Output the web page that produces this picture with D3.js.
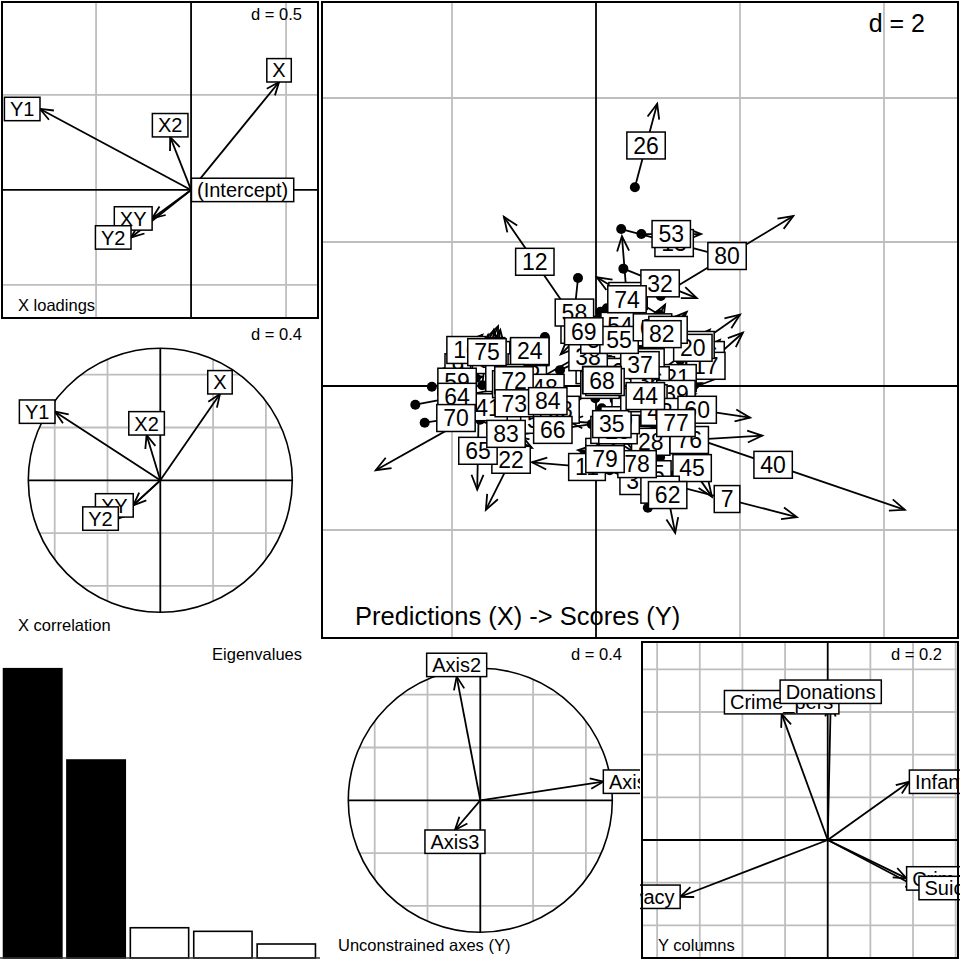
<!DOCTYPE html>
<html><head><meta charset="utf-8">
<script src="https://cdn.jsdelivr.net/npm/d3@7"></script>
<style>body{margin:0;background:#fff}svg{display:block}</style>
</head><body>
<svg id="chart" width="960" height="960"></svg>
<script>
const FONT = "'Liberation Sans', Arial, Helvetica, sans-serif";

// ---------- data ----------
const xLoadNames = ["(Intercept)", "X", "Y1", "X2", "XY", "Y2"];
const xLoadX = [0.002, 0.463, -0.795, -0.11, -0.205, -0.316];
const xLoadY = [0, 0.568, 0.426, 0.279, -0.15, -0.25];

const xCorNames = ["X", "Y1", "X2", "XY", "Y2"];
const xCorX = [0.452, -0.798, -0.104, -0.205, -0.318];
const xCorY = [0.654, 0.520, 0.343, -0.19, -0.29];

const axesNames = ["Axis1", "Axis2", "Axis3"];
const axesX = [0.932, -0.179, -0.192];
const axesY = [0.141, 0.937, -0.225];

const yColNames = ["Crime_pers", "Crime_prop", "Literacy", "Donations", "Infants", "Suicides"];
const yColX = [-0.216, 0.37, -0.692, 0.014, 0.383, 0.428];
const yColY = [0.591, -0.18, -0.266, 0.64, 0.273, -0.225];

const eigNames = ["1", "2", "3", "4", "5"];
const eigValues = [2.17, 1.485, 0.227, 0.20, 0.105];
const eigKept = 2;

const obsNames = ["1","2","3","4","5","6","7","8","9","10","11","12","13","14","15","16","17","18","19","20",
"21","22","23","24","25","26","27","28","29","30","31","32","33","34","35","36","37","38","39","40",
"41","42","43","44","45","46","47","48","49","50","51","52","53","54","55","56","57","58","59","60",
"61","62","63","64","65","66","67","68","69","70","71","72","73","74","75","76","77","78","79","80",
"81","82","83","84"];
// predictions (X) : dots
const predX = [-1.26,-1.47,0.19,0.26,0.56,-1.42,0.85,-1.58,-2.10,-2.03,0.64,-0.42,0.35,0.50,-1.19,1.31,1.01,-0.01,1.17,0.69,
0.58,-0.83,-1.06,-0.71,-0.15,0.54,0.26,0.44,0.08,0.28,0.88,0.38,0.54,0.44,0.83,0.61,0.19,-0.50,0.75,0.63,
0.06,0.58,0.75,-0.01,1.06,-0.08,-1.19,-0.50,-1.40,-0.36,-0.08,-0.92,0.63,0.06,0.06,0.72,-0.06,-0.25,-2.28,0.67,
0.61,0.89,-0.64,-2.51,-1.63,-0.06,-0.01,-0.33,0.15,-2.38,-1.31,-0.85,-1.33,0.50,-1.67,0.28,0.89,0.22,-0.17,0.90,
0.74,0.68,-1.61,-0.92];
const predY = [-0.19,0.19,-1.17,-0.19,-1.17,0.08,-1.32,0.01,0.19,0.29,-1.19,1.10,2.18,-0.94,0.08,0.22,-0.18,-0.75,0.36,0.07,
0.12,-0.33,0.36,0.68,0.08,2.76,0.08,-0.61,-0.31,-0.32,0.99,1.63,0.22,-0.33,-0.57,-0.06,0.36,0.22,-0.26,-0.47,
0.58,-0.31,-0.47,-0.17,-0.74,-0.08,-0.22,-0.19,-0.03,0.67,0.53,-0.54,2.11,1.03,0.78,-1.69,-0.08,1.50,-0.01,-0.22,
0.50,-0.99,-0.44,-0.26,-0.36,-0.53,-0.06,-0.28,1.08,-0.51,-0.06,0.22,-0.13,0.33,0.11,-0.81,-0.75,-0.75,-0.97,1.25,
0.53,0.47,-0.47,-0.10];
// scores (Y) : arrow heads
const scoreX = [-0.99,-1.42,0.83,0.54,1.17,-1.33,2.79,-1.50,-1.74,-1.58,-0.89,-1.28,1.82,-0.25,-0.72,1.72,2.04,0.40,1.58,2.00,
1.67,-1.53,-0.78,-1.13,0.13,0.85,0.54,1.08,0.53,0.39,0.01,1.40,0.82,0.78,-0.39,0.89,1.03,0.28,1.47,4.29,
-3.06,0.86,1.03,1.38,1.61,0.19,-0.92,-0.92,-1.13,-0.08,0.19,-0.64,1.46,0.61,0.58,1.06,0.22,-0.35,-1.58,2.14,
0.96,1.10,-0.36,-1.35,-1.65,-1.14,0.26,0.50,-0.49,-1.51,-1.03,-1.43,-0.94,0.36,-1.36,2.31,1.33,0.92,0.42,2.74,
1.26,1.15,-0.89,-0.42];
const scoreY = [0.03,0.78,-1.47,-0.47,-1.28,0.78,-1.82,0.71,0.33,0.71,-1.06,2.35,1.79,-0.89,0.44,0.64,0.74,-0.47,0.78,0.99,
0.10,-1.72,0.58,0.29,0.36,3.92,0.31,-0.94,-0.92,-0.63,1.51,1.22,0.44,-0.11,-0.49,0.22,0.22,0.58,0.04,-1.72,
-1.17,-0.03,-0.25,-0.11,-1.54,0.11,-0.03,0.14,0.25,0.89,0.75,-0.40,2.11,0.64,0.50,-1.19,0.25,0.54,0.13,-0.44,
1.13,-2.04,-0.22,-0.04,-1.44,-0.69,0.17,0.44,0.44,-0.38,0.11,-0.06,-0.35,2.08,0.83,-0.69,-0.28,-1.42,-1.06,2.36,
1.03,0.97,-0.86,-0.32];

// ---------- helpers ----------
const svg = d3.select("#chart");
svg.append("rect").attr("width", 960).attr("height", 960).attr("fill", "#fff");
const defs = svg.append("defs");
const GRID = "#bebebe";

function measure(text, size) {
  const t = svg.append("text").attr("font-family", FONT).attr("font-size", size).text(text);
  const w = t.node().getComputedTextLength();
  t.remove();
  return w;
}
function headPath(x0, y0, x1, y1, len, ang) {
  const a = Math.atan2(y1 - y0, x1 - x0), r = ang * Math.PI / 180;
  const p1 = [x1 - len * Math.cos(a - r), y1 - len * Math.sin(a - r)];
  const p2 = [x1 - len * Math.cos(a + r), y1 - len * Math.sin(a + r)];
  return `M${p1[0]},${p1[1]}L${x1},${y1}L${p2[0]},${p2[1]}`;
}
function boxDims(text, size) {
  return { w: measure(text, size) + 2 * 0.278 * size, h: size * 1.17 };
}
function labelBox(g, text, cx, cy, size) {
  const d = boxDims(text, size);
  g.append("rect").attr("x", cx - d.w / 2).attr("y", cy - d.h / 2)
    .attr("width", d.w).attr("height", d.h)
    .attr("fill", "#fff").attr("stroke", "#000").attr("stroke-width", 1.5);
  g.append("text").attr("x", cx).attr("y", cy).attr("dy", "0.36em")
    .attr("text-anchor", "middle").attr("font-family", FONT).attr("font-size", size)
    .attr("fill", "#000").text(text);
}
function clipRect(id, x, y, w, h) {
  defs.append("clipPath").attr("id", id).append("rect")
    .attr("x", x).attr("y", y).attr("width", w).attr("height", h);
  return `url(#${id})`;
}
function smallText(g, txt, x, y, anchor, size) {
  g.append("text").attr("x", x).attr("y", y).attr("text-anchor", anchor)
    .attr("font-family", FONT).attr("font-size", size).attr("fill", "#000").text(txt);
}
function stepTicks(lo, hi, step) {
  const out = [];
  for (let v = Math.ceil(lo / step - 1e-9) * step; v <= hi + 1e-9; v += step) out.push(+v.toFixed(6));
  return out;
}

// generic arrow panel (ade4 s.arrow / s.corcircle style)
function arrowPanel(o) {
  const g = svg.append("g").attr("clip-path", clipRect(o.id, o.cell[0], o.cell[1], o.cell[2], o.cell[3]));
  const x = o.x, y = o.y;
  const ox = x(0), oy = y(0);
  if (o.circle) {
    const r = x(1) - x(0);
    const cid = o.id + "c";
    defs.append("clipPath").attr("id", cid).append("circle").attr("cx", ox).attr("cy", oy).attr("r", r);
    const gg = g.append("g").attr("clip-path", `url(#${cid})`);
    stepTicks(-1, 1, o.step).filter(v => v !== 0).forEach(v => {
      gg.append("line").attr("x1", x(v)).attr("x2", x(v)).attr("y1", oy - r).attr("y2", oy + r)
        .attr("stroke", GRID).attr("stroke-width", 1.8);
      gg.append("line").attr("y1", y(v)).attr("y2", y(v)).attr("x1", ox - r).attr("x2", ox + r)
        .attr("stroke", GRID).attr("stroke-width", 1.8);
    });
    gg.append("line").attr("x1", ox).attr("x2", ox).attr("y1", oy - r).attr("y2", oy + r).attr("stroke", "#000").attr("stroke-width", 1.8);
    gg.append("line").attr("y1", oy).attr("y2", oy).attr("x1", ox - r).attr("x2", ox + r).attr("stroke", "#000").attr("stroke-width", 1.8);
    g.append("circle").attr("cx", ox).attr("cy", oy).attr("r", r).attr("fill", "none").attr("stroke", "#000").attr("stroke-width", 1.6);
  } else {
    const [x0, x1] = x.domain(), [y0, y1] = y.domain();
    g.append("rect").attr("x", x.range()[0]).attr("y", y.range()[1])
      .attr("width", x.range()[1] - x.range()[0]).attr("height", y.range()[0] - y.range()[1]).attr("fill", "#fff");
    stepTicks(x0, x1, o.step).filter(v => v !== 0).forEach(v => {
      g.append("line").attr("x1", x(v)).attr("x2", x(v)).attr("y1", y.range()[0]).attr("y2", y.range()[1])
        .attr("stroke", GRID).attr("stroke-width", 1.8);
    });
    stepTicks(y0, y1, o.step).filter(v => v !== 0).forEach(v => {
      g.append("line").attr("y1", y(v)).attr("y2", y(v)).attr("x1", x.range()[0]).attr("x2", x.range()[1])
        .attr("stroke", GRID).attr("stroke-width", 1.8);
    });
    g.append("line").attr("x1", ox).attr("x2", ox).attr("y1", y.range()[0]).attr("y2", y.range()[1]).attr("stroke", "#000").attr("stroke-width", 1.8);
    g.append("line").attr("y1", oy).attr("y2", oy).attr("x1", x.range()[0]).attr("x2", x.range()[1]).attr("stroke", "#000").attr("stroke-width", 1.8);
  }
  // arrows
  o.names.forEach((n, i) => {
    const tx = x(o.xs[i]), ty = y(o.ys[i]);
    if (Math.hypot(tx - ox, ty - oy) < 2) return;
    g.append("line").attr("x1", ox).attr("y1", oy).attr("x2", tx).attr("y2", ty)
      .attr("stroke", "#000").attr("stroke-width", 1.8);
    g.append("path").attr("d", headPath(ox, oy, tx, ty, 14, 22))
      .attr("fill", "none").attr("stroke", "#000").attr("stroke-width", 1.8);
  });
  // labels
  o.names.forEach((n, i) => {
    const tx = x(o.xs[i]), ty = y(o.ys[i]);
    const d = boxDims(n, o.font);
    const dx = tx - ox, du = oy - ty;
    let cx, cy;
    if (dx > du && dx > -du) { cx = tx + d.w / 2; cy = ty; }
    else if (dx > du && dx <= -du) { cx = tx; cy = ty + d.h / 2; }
    else if (dx <= du && dx <= -du) { cx = tx - d.w / 2; cy = ty; }
    else { cx = tx; cy = ty - d.h / 2; }
    labelBox(g, n, cx, cy, o.font);
  });
  if (!o.circle) {
    g.append("rect").attr("x", x.range()[0]).attr("y", y.range()[1])
      .attr("width", x.range()[1] - x.range()[0]).attr("height", y.range()[0] - y.range()[1])
      .attr("fill", "none").attr("stroke", "#000").attr("stroke-width", 2);
  }
  const c = o.cell;
  smallText(g, o.dText, c[0] + c[2] - 18, c[1] + 20, "end", 16.5);
  smallText(g, o.sub, c[0] + 18, c[1] + c[3] - 9, "start", 16.5);
  return g;
}

// ---------- panel 1 : X loadings ----------
arrowPanel({
  id: "p1", cell: [0, 0, 320, 320],
  x: d3.scaleLinear().domain([-0.995, 0.668]).range([2, 318]),
  y: d3.scaleLinear().domain([-0.674, 0.989]).range([318, 2]),
  step: 0.5, names: xLoadNames, xs: xLoadX, ys: xLoadY, font: 20,
  dText: "d = 0.5", sub: "X loadings"
});

// ---------- panel 2 : X correlation ----------
arrowPanel({
  id: "p2", cell: [0, 320, 320, 320], circle: true,
  x: d3.scaleLinear().domain([-1, 1]).range([28.3, 292.3]),
  y: d3.scaleLinear().domain([-1, 1]).range([612.3, 348.3]),
  step: 0.4, names: xCorNames, xs: xCorX, ys: xCorY, font: 20,
  dText: "d = 0.4", sub: "X correlation"
});

// ---------- panel 3 : Eigenvalues ----------
{
  const g = svg.append("g");
  const xb = d3.scaleBand().domain(eigNames).range([1, 318]).paddingInner(0.08).paddingOuter(0.04);
  const yb = d3.scaleLinear().domain([0, d3.max(eigValues)]).range([958, 668.7]);
  eigNames.forEach((n, i) => {
    g.append("rect").attr("x", xb(n)).attr("y", yb(eigValues[i]))
      .attr("width", xb.bandwidth()).attr("height", yb(0) - yb(eigValues[i]))
      .attr("fill", i < eigKept ? "#000" : "#fff").attr("stroke", "#000").attr("stroke-width", 1.6);
  });
  g.append("line").attr("x1", 0).attr("x2", 320).attr("y1", 958).attr("y2", 958).attr("stroke", "#333").attr("stroke-width", 1.5);
  smallText(g, "Eigenvalues", 302, 660, "end", 16.5);
}

// ---------- main panel : Predictions (X) -> Scores (Y) ----------
{
  const g = svg.append("g").attr("clip-path", clipRect("pm", 320, 0, 640, 640));
  const x = d3.scaleLinear().domain([-3.806, 5.028]).range([322, 958]);
  const y = d3.scaleLinear().domain([-3.5, 5.333]).range([638, 2]);
  g.append("rect").attr("x", 322).attr("y", 2).attr("width", 636).attr("height", 636).attr("fill", "#fff");
  stepTicks(x.domain()[0], x.domain()[1], 2).filter(v => v !== 0).forEach(v => {
    g.append("line").attr("x1", x(v)).attr("x2", x(v)).attr("y1", 2).attr("y2", 638).attr("stroke", GRID).attr("stroke-width", 1.8);
  });
  stepTicks(y.domain()[0], y.domain()[1], 2).filter(v => v !== 0).forEach(v => {
    g.append("line").attr("y1", y(v)).attr("y2", y(v)).attr("x1", 322).attr("x2", 958).attr("stroke", GRID).attr("stroke-width", 1.8);
  });
  g.append("line").attr("x1", x(0)).attr("x2", x(0)).attr("y1", 2).attr("y2", 638).attr("stroke", "#000").attr("stroke-width", 1.8);
  g.append("line").attr("y1", y(0)).attr("y2", y(0)).attr("x1", 322).attr("x2", 958).attr("stroke", "#000").attr("stroke-width", 1.8);

  obsNames.forEach((n, i) => {
    const x0 = x(predX[i]), y0 = y(predY[i]), x1 = x(scoreX[i]), y1 = y(scoreY[i]);
    g.append("line").attr("x1", x0).attr("y1", y0).attr("x2", x1).attr("y2", y1).attr("stroke", "#000").attr("stroke-width", 1.8);
    g.append("path").attr("d", headPath(x0, y0, x1, y1, 16, 22)).attr("fill", "none").attr("stroke", "#000").attr("stroke-width", 1.8);
  });
  obsNames.forEach((n, i) => {
    g.append("circle").attr("cx", x(predX[i])).attr("cy", y(predY[i])).attr("r", 5).attr("fill", "#000");
  });
  obsNames.forEach((n, i) => {
    const cx = (x(predX[i]) + x(scoreX[i])) / 2, cy = (y(predY[i]) + y(scoreY[i])) / 2;
    labelBox(g, n, cx, cy, 23);
  });
  g.append("rect").attr("x", 322).attr("y", 2).attr("width", 636).attr("height", 636)
    .attr("fill", "none").attr("stroke", "#000").attr("stroke-width", 2);
  smallText(g, "d = 2", 925, 32, "end", 25);
  smallText(g, "Predictions (X) -> Scores (Y)", 355, 625, "start", 25.5);
}

// ---------- panel 5 : Unconstrained axes (Y) ----------
arrowPanel({
  id: "p5", cell: [320, 640, 320, 320], circle: true,
  x: d3.scaleLinear().domain([-1, 1]).range([348.3, 612.3]),
  y: d3.scaleLinear().domain([-1, 1]).range([932.3, 668.3]),
  step: 0.4, names: axesNames, xs: axesX, ys: axesY, font: 20,
  dText: "d = 0.4", sub: "Unconstrained axes (Y)"
});

// ---------- panel 6 : Y columns ----------
arrowPanel({
  id: "p6", cell: [640, 640, 320, 320],
  x: d3.scaleLinear().domain([-0.871, 0.611]).range([642, 958]),
  y: d3.scaleLinear().domain([-0.553, 0.928]).range([958, 642]),
  step: 0.2, names: yColNames, xs: yColX, ys: yColY, font: 20,
  dText: "d = 0.2", sub: "Y columns"
});
</script>
</body></html>
